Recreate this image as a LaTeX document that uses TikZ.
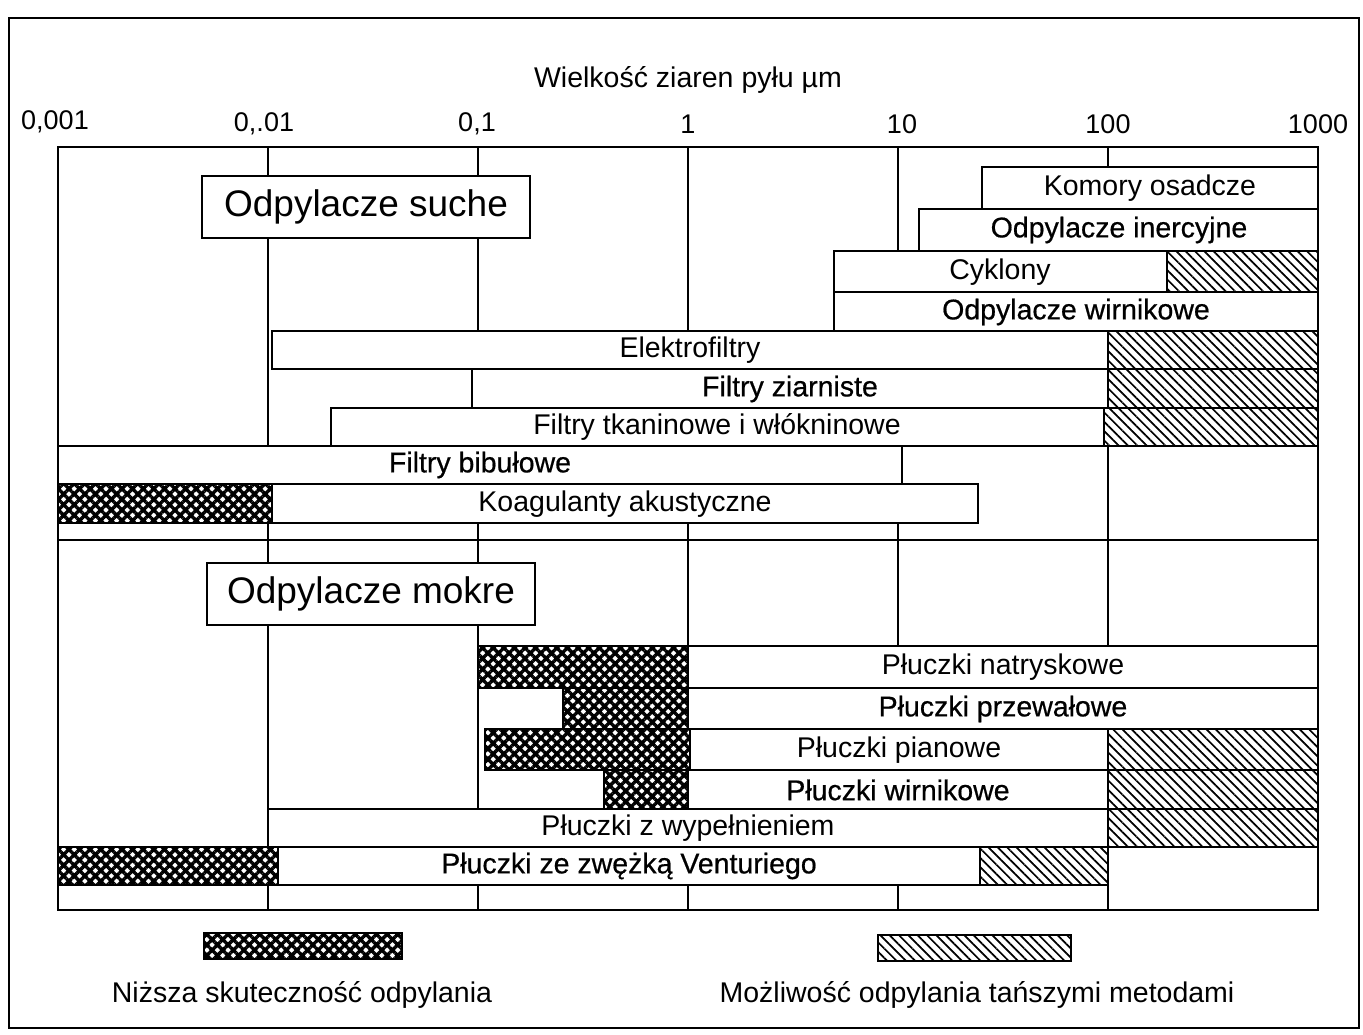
\documentclass[tikz,border=0pt]{standalone}
\usepackage{fontspec}
\setmainfont{Liberation Sans}
\newfontfamily\darkfont{Liberation Sans}[FakeBold=0.6]
\usetikzlibrary{patterns.meta}

\tikzset{
  barbox/.style={draw, line width=1.8pt, fill=white},
  gridline/.style={line width=1.2pt},
  lowereff/.style={draw, line width=1.8pt, pattern={Hatch[angle=45,distance=7.5pt,line width=3.4pt]}},
  cheaper/.style={draw, line width=1.8pt, pattern={Lines[angle=-45,distance=6.6pt,line width=1.7pt]}},
  barlabel/.style={inner sep=0pt, font=\fontsize{28.5}{34}\selectfont},
  darklabel/.style={inner sep=0pt, font=\fontsize{28.5}{34}\selectfont\darkfont},
  ticklabel/.style={inner sep=0pt, font=\fontsize{27}{32}\selectfont},
  grouplabel/.style={draw, line width=1.8pt, fill=white, minimum width=328pt, minimum height=62pt, inner sep=0pt, font=\fontsize{37}{44}\selectfont},
}

\begin{document}
\begin{tikzpicture}[x=1pt,y=-1pt]
\useasboundingbox (0,0) rectangle (1363,1035);
\fill[white] (0,0) rectangle (1363,1035);

% outer frame
\draw[line width=1.8pt] (9,18) rectangle (1359,1028);

% axis caption and decade labels
\node[barlabel] (axis) at (688,80) {Wielkość ziaren pyłu µm};
\node[ticklabel] (t0) at (55,122) {0,001};
\node[ticklabel] (t1) at (264,124) {0,.01};
\node[ticklabel] (t2) at (477,124) {0,1};
\node[ticklabel] (t3) at (688,124) {1};
\node[ticklabel] (t4) at (902,124) {10};
\node[ticklabel] (t5) at (1108,124) {100};
\node[ticklabel] (t6) at (1318,124) {1000};

% chart frame and decade grid
\draw[line width=1.8pt] (58,147) rectangle (1318,910);
\foreach \gx in {268,478,688,898,1108}
  \draw[gridline] (\gx,147) -- (\gx,910);
\draw[line width=1.8pt] (58,540) -- (1318,540);

% dry dust collectors
\node[grouplabel] (dry) at (366,207) {Odpylacze suche};

\draw[barbox] (982,167) rectangle (1318,209);
\node[barlabel] (komory) at (1150,188) {Komory osadcze};

\draw[barbox] (919,209) rectangle (1318,251);
\node[darklabel] (inerc) at (1119,230) {Odpylacze inercyjne};

\draw[barbox] (834,251) rectangle (1318,292);
\draw[cheaper] (1167,251) rectangle (1318,292);
\node[barlabel] (cyklony) at (1000,272) {Cyklony};

\draw[barbox] (834,292) rectangle (1318,331);
\node[darklabel] (wirn) at (1076,312) {Odpylacze wirnikowe};

\draw[barbox] (272,331) rectangle (1318,369);
\draw[cheaper] (1108,331) rectangle (1318,369);
\node[barlabel] (elektro) at (690,350) {Elektrofiltry};

\draw[barbox] (472,369) rectangle (1318,408);
\draw[cheaper] (1108,369) rectangle (1318,408);
\node[darklabel] (ziarn) at (790,389) {Filtry ziarniste};

\draw[barbox] (331,408) rectangle (1318,446);
\draw[cheaper] (1104,408) rectangle (1318,446);
\node[barlabel] (tkan) at (717,427) {Filtry tkaninowe i włókninowe};

\draw[barbox] (58,446) rectangle (902,484);
\node[darklabel] (bibul) at (480,465) {Filtry bibułowe};

\draw[barbox] (58,484) rectangle (978,523);
\draw[lowereff] (58,484) rectangle (272,523);
\node[barlabel] (koag) at (625,504) {Koagulanty akustyczne};

% wet dust collectors
\node[grouplabel] (wet) at (371,594) {Odpylacze mokre};

\draw[barbox] (478,646) rectangle (1318,688);
\draw[lowereff] (478,646) rectangle (688,688);
\node[barlabel] (natr) at (1003,667) {Płuczki natryskowe};

\draw[barbox] (563,688) rectangle (1318,729);
\draw[lowereff] (563,688) rectangle (688,729);
\node[darklabel] (przew) at (1003,709) {Płuczki przewałowe};

\draw[barbox] (485,729) rectangle (1318,770);
\draw[lowereff] (485,729) rectangle (690,770);
\draw[cheaper] (1108,729) rectangle (1318,770);
\node[barlabel] (pian) at (899,750) {Płuczki pianowe};

\draw[barbox] (604,770) rectangle (1318,809);
\draw[lowereff] (604,770) rectangle (688,809);
\draw[cheaper] (1108,770) rectangle (1318,809);
\node[darklabel] (pwirn) at (898,790) {Płuczki wirnikowe};

\draw[barbox] (268,809) rectangle (1318,847);
\draw[cheaper] (1108,809) rectangle (1318,847);
\node[barlabel] (wypel) at (688,828) {Płuczki z wypełnieniem};

\draw[barbox] (58,847) rectangle (1108,885);
\draw[lowereff] (58,847) rectangle (278,885);
\draw[cheaper] (980,847) rectangle (1108,885);
\node[darklabel] (ventur) at (629,866) {Płuczki ze zwężką Venturiego};

% legend
\draw[lowereff] (204,933) rectangle (402,959);
\node[barlabel] (legA) at (302,995) {Niższa skuteczność odpylania};
\draw[cheaper] (878,935) rectangle (1071,961);
\node[barlabel] (legB) at (977,995) {Możliwość odpylania tańszymi metodami};
\end{tikzpicture}
\end{document}
